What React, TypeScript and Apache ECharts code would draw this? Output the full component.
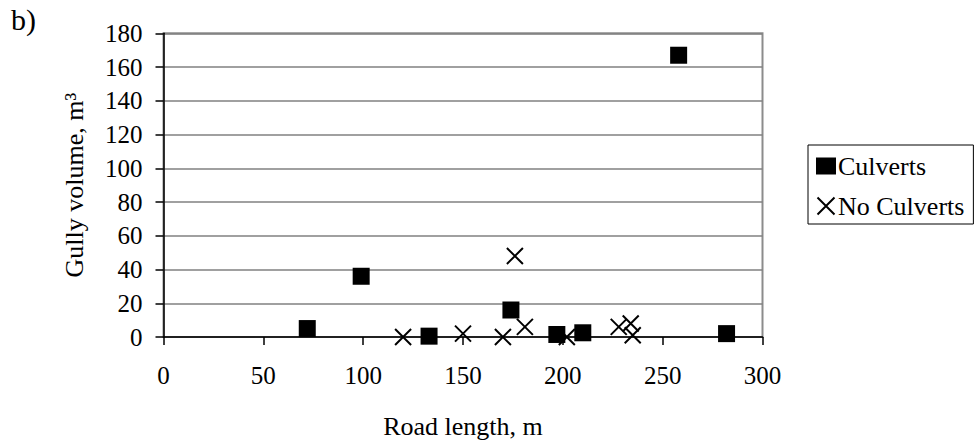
import React, { useEffect, useRef } from "react";
import * as echarts from "echarts";

// Culverts (filled squares)
const culvertsX = [72, 99, 133, 174, 197, 210, 258, 282];
const culvertsY = [5, 36, 0.5, 16, 1.5, 2.5, 167, 2];

// No Culverts (crosses)
const noCulvertsX = [120, 150, 170, 176, 181, 202, 228, 234, 235];
const noCulvertsY = [0, 2, 0, 48, 6, 0, 6, 8, 1];

const seriesNames = ["Culverts", "No Culverts"];
const xTitle = "Road length, m";
const yTitle = "Gully volume, m³";
const panelLabel = "b)";

const CROSS = "path://M0,0L16,16M16,0L0,16";
const FONT = "Liberation Serif";

export default function App() {
  const ref = useRef<HTMLDivElement>(null);
  useEffect(() => {
    document.body.style.margin = "0";
    const chart = echarts.init(ref.current!, null, { renderer: "svg" });
    const culverts = culvertsX.map((x, i) => [x, culvertsY[i]]);
    const noCulverts = noCulvertsX.map((x, i) => [x, noCulvertsY[i]]);
    chart.setOption({
      animation: false,
      textStyle: { fontFamily: FONT, color: "#000" },
      graphic: [
        {
          type: "text",
          left: 11,
          top: 4,
          style: { text: panelLabel, fontFamily: FONT, fontSize: 30, fill: "#000" },
        },
      ],
      grid: {
        left: 163.5,
        top: 33.3,
        right: 216.5,
        bottom: 106.5,
        show: true,
        borderColor: "#8c8c8c",
        borderWidth: 2,
        backgroundColor: "#fff",
      },
      legend: {
        orient: "vertical",
        left: 808,
        top: 145,
        padding: [8, 9, 5, 7],
        itemGap: 14,
        itemWidth: 20,
        itemHeight: 17,
        borderColor: "#000",
        borderWidth: 1,
        textStyle: { fontFamily: FONT, fontSize: 26, color: "#000", padding: [0, 0, 0, -3] },
        data: [
          { name: seriesNames[0], icon: "rect", itemStyle: { color: "#000", opacity: 1 } },
          {
            name: seriesNames[1],
            icon: CROSS,
            itemStyle: { color: "none", borderColor: "#000", borderWidth: 2, opacity: 1 },
          },
        ],
      },
      xAxis: {
        type: "value",
        min: 0,
        max: 300,
        interval: 50,
        name: xTitle,
        nameLocation: "middle",
        nameGap: 76,
        nameTextStyle: { fontFamily: FONT, fontSize: 26, color: "#000" },
        axisLine: { show: true, lineStyle: { color: "#000", width: 1.5 } },
        axisTick: { show: true, inside: false, length: 8, lineStyle: { color: "#000", width: 1.5 } },
        axisLabel: { margin: 26, fontFamily: FONT, fontSize: 25, color: "#000" },
        splitLine: { show: false },
      },
      yAxis: {
        type: "value",
        min: 0,
        max: 180,
        interval: 20,
        name: yTitle,
        nameLocation: "middle",
        nameGap: 76,
        nameTextStyle: { fontFamily: FONT, fontSize: 26, color: "#000" },
        axisLine: { show: true, lineStyle: { color: "#000", width: 1.5 } },
        axisTick: { show: true, inside: false, length: 8, lineStyle: { color: "#000", width: 1.5 } },
        axisLabel: { margin: 21, fontFamily: FONT, fontSize: 25, color: "#000" },
        splitLine: { show: true, lineStyle: { color: "#808080", width: 1.5 } },
      },
      series: [
        {
          name: seriesNames[0],
          type: "scatter",
          symbol: "rect",
          symbolSize: 17,
          itemStyle: { color: "#000", opacity: 1 },
          data: culverts,
          z: 3,
        },
        {
          name: seriesNames[1],
          type: "scatter",
          symbol: CROSS,
          symbolSize: 16,
          itemStyle: { color: "none", borderColor: "#000", borderWidth: 2, opacity: 1 },
          data: noCulverts,
          z: 4,
        },
      ],
    });
    return () => chart.dispose();
  }, []);
  return <div ref={ref} style={{ width: 979, height: 444 }} />;
}
